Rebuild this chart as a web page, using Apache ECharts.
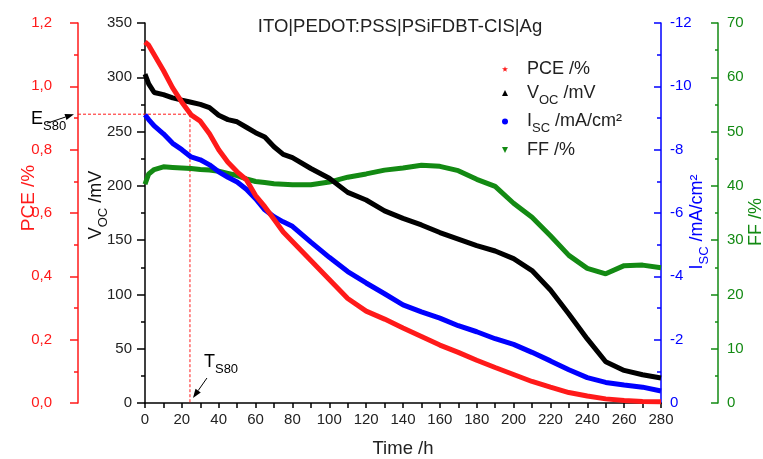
<!DOCTYPE html>
<html>
<head>
<meta charset="utf-8">
<script src="https://cdn.jsdelivr.net/npm/echarts@6/dist/echarts.min.js"></script>
<style>
html,body{margin:0;padding:0;background:#fff;}
#c{width:763px;height:459px;}
</style>
</head>
<body>
<div id="c"></div>
<script>
// ---- data ----
const times = [0, 2, 5, 10, 15, 20, 25, 30, 35, 40, 45, 50, 55, 60, 65, 70, 75, 80, 90, 100, 110, 120, 130, 140, 150, 160, 170, 180, 190, 200, 210, 220, 230, 240, 250, 260, 270, 280];
const pce = [1.14, 1.13, 1.10, 1.05, 0.995, 0.95, 0.91, 0.89, 0.85, 0.80, 0.76, 0.73, 0.705, 0.655, 0.62, 0.58, 0.54, 0.51, 0.45, 0.39, 0.33, 0.29, 0.265, 0.237, 0.21, 0.183, 0.16, 0.135, 0.112, 0.09, 0.068, 0.05, 0.033, 0.022, 0.013, 0.008, 0.005, 0.004];
const voc = [303, 294, 286, 284, 281, 279, 277, 275, 272, 265, 261, 259, 254, 249, 245, 236, 229, 226, 216, 207, 194, 187, 177, 170, 164, 157, 151, 145, 140, 133, 122, 104, 82, 59, 38, 30, 26, 23];
const isc = [-9.1, -8.95, -8.75, -8.5, -8.2, -8.0, -7.77, -7.68, -7.52, -7.3, -7.13, -6.98, -6.75, -6.45, -6.1, -5.88, -5.72, -5.58, -5.08, -4.6, -4.15, -3.79, -3.45, -3.1, -2.88, -2.68, -2.44, -2.25, -2.03, -1.85, -1.6, -1.33, -1.05, -0.8, -0.65, -0.57, -0.5, -0.38];
const ff = [40.3, 42.2, 43.0, 43.5, 43.4, 43.3, 43.2, 43.0, 42.9, 42.7, 42.3, 41.9, 41.3, 40.8, 40.6, 40.4, 40.3, 40.2, 40.2, 40.7, 41.6, 42.2, 42.9, 43.3, 43.8, 43.6, 42.8, 41.2, 39.9, 36.8, 34.2, 30.8, 27.2, 24.8, 23.8, 25.3, 25.4, 24.9];
const tS80 = 24.4;   // h
const eS80 = 0.912;  // %
const xTicks = {min: 0, max: 280, interval: 20};

// ---- layout / style ----
const RED = '#ff1a1a', BLUE = '#0000ff', GREEN = '#138a13', BLACK = '#000000';
const FONT = 'Liberation Sans, Arial, sans-serif';
const gridLeft = 145, gridRight = 102, gridTop = 23, gridBottom = 56;
const pceOffset = 67, ffOffset = 57;

function zip(a, b) { return a.map((t, i) => [t, b[i]]); }

function richSet(size, color) {
  return {
    m: {fontSize: size, color: color, fontFamily: FONT},
    s: {fontSize: Math.round(size * 0.72), color: color, fontFamily: FONT, padding: [Math.round(size * 0.8), 0, 0, 0]}
  };
}

const chart = echarts.init(document.getElementById('c'), null, {renderer: 'canvas'});

const legendLabels = {
  PCE: '{m|PCE /%}',
  Voc: '{m|V}{s|OC}{m| /mV}',
  Isc: '{m|I}{s|SC}{m| /mA/cm²}',
  FF: '{m|FF /%}'
};

function yAxisBase(color) {
  return {
    type: 'value',
    splitLine: {show: false},
    axisLine: {show: true, onZero: false, lineStyle: {color: color, width: 1.5}},
    axisTick: {show: true, length: 8, lineStyle: {color: color, width: 1.5}},
    minorTick: {show: true, splitNumber: 2, length: 4, lineStyle: {color: color, width: 1.5}},
    axisLabel: {fontSize: 15, fontFamily: FONT, color: color === BLACK ? '#222' : color},
    nameLocation: 'middle',
    nameRotate: 90,
    nameMoveOverlap: false
  };
}

const option = {
  animation: false,
  backgroundColor: '#fff',
  title: {
    text: 'ITO|PEDOT:PSS|PSiFDBT-CIS|Ag',
    left: 395, top: 12, textAlign: 'center',
    textStyle: {fontSize: 18.5, fontWeight: 'normal', color: '#222', fontFamily: FONT}
  },
  grid: {left: gridLeft, right: gridRight, top: gridTop, bottom: gridBottom, containLabel: false, outerBoundsMode: 'none'},
  legend: {
    orient: 'vertical', left: 497, top: 55,
    itemWidth: 6, itemHeight: 6, itemGap: 6,
    data: [
      {name: 'PCE', icon: 'path://M5,0L6.2,3.5L10,3.6L7,6L8,9.5L5,7.4L2,9.5L3,6L0,3.6L3.8,3.5Z'},
      {name: 'Voc', icon: 'triangle'},
      {name: 'Isc', icon: 'circle'},
      {name: 'FF', icon: 'path://M0,0L10,0L5,10Z'}
    ],
    formatter: n => legendLabels[n],
    textStyle: {color: '#222', fontSize: 18, fontFamily: FONT, padding: [0, 0, 0, 14], rich: richSet(18, '#222')},
    selectedMode: false
  },
  xAxis: {
    type: 'value', min: xTicks.min, max: xTicks.max, interval: xTicks.interval,
    splitLine: {show: false},
    axisLine: {show: true, onZero: false, lineStyle: {color: BLACK, width: 1.5}},
    axisTick: {show: true, length: 5, lineStyle: {color: BLACK, width: 1.5}},
    minorTick: {show: true, splitNumber: 2, length: 5, lineStyle: {color: BLACK, width: 1.5}},
    axisLabel: {fontSize: 15, fontFamily: FONT, color: '#222', margin: 9},
    name: 'Time /h', nameLocation: 'middle', nameGap: 36, nameMoveOverlap: false,
    nameTextStyle: {fontSize: 18.5, fontFamily: FONT, color: '#222'}
  },
  yAxis: [
    Object.assign(yAxisBase(BLACK), {
      position: 'left', offset: 0, min: 0, max: 350, interval: 50,
      name: '{m|V}{s|OC}{m| /mV}', nameGap: 35,
      nameTextStyle: {rich: richSet(18, '#111'), padding: [0, 0, 0, 16]}
    }),
    Object.assign(yAxisBase(RED), {
      position: 'left', offset: pceOffset, min: 0, max: 1.2, interval: 0.2,
      name: '{m|PCE /%}', nameGap: 40,
      nameTextStyle: {rich: richSet(19, RED), padding: [0, 0, 0, 30]}
    }),
    Object.assign(yAxisBase(BLUE), {
      position: 'right', offset: 0, min: -12, max: 0, interval: 2, inverse: true,
      name: '{m|I}{s|SC}{m| /mA/cm²}', nameGap: 23,
      nameTextStyle: {rich: richSet(18, BLUE), padding: [0, 18, 0, 0]}
    }),
    Object.assign(yAxisBase(GREEN), {
      position: 'right', offset: ffOffset, min: 0, max: 70, interval: 10,
      name: '{m|FF /%}', nameGap: 29,
      nameTextStyle: {rich: richSet(18, GREEN), padding: [0, 18, 0, 0]}
    })
  ],
  series: [
    {name: 'PCE', type: 'line', yAxisIndex: 1, data: zip(times, pce), showSymbol: false, symbol: 'none',
     lineStyle: {color: RED, width: 5}, itemStyle: {color: RED}, z: 5},
    {name: 'Voc', type: 'line', yAxisIndex: 0, data: zip(times, voc), showSymbol: false, symbol: 'none',
     lineStyle: {color: BLACK, width: 5}, itemStyle: {color: BLACK}, z: 4},
    {name: 'Isc', type: 'line', yAxisIndex: 2, data: zip(times, isc), showSymbol: false, symbol: 'none',
     lineStyle: {color: BLUE, width: 5}, itemStyle: {color: BLUE}, z: 3},
    {name: 'FF', type: 'line', yAxisIndex: 3, data: zip(times, ff), showSymbol: false, symbol: 'none',
     lineStyle: {color: GREEN, width: 5}, itemStyle: {color: GREEN}, z: 2}
  ]
};
// label formatters
option.yAxis[1].axisLabel.formatter = v => v.toFixed(1).replace('.', ',');
option.yAxis[1].axisLabel.margin = 26;
option.yAxis[0].axisLabel.margin = 13;
option.yAxis[2].axisLabel.margin = 9;
option.yAxis[3].axisLabel.margin = 9;
option.yAxis[2].axisTick.inside = true; option.yAxis[2].minorTick.inside = true;
option.yAxis[3].axisTick.inside = true; option.yAxis[3].minorTick.inside = true;
option.yAxis[2].axisTick.length = 7; option.yAxis[3].axisTick.length = 7;
option.yAxis[3].minorTick.length = 3;

chart.setOption(option);

// ---- annotations (positions derived from the axes) ----
const pt = chart.convertToPixel({xAxisIndex: 0, yAxisIndex: 1}, [tS80, eS80]);
const base = chart.convertToPixel({xAxisIndex: 0, yAxisIndex: 1}, [tS80, 0]);
const pceAxisX = gridLeft - pceOffset;

function arrow(x1, y1, x2, y2) {
  const ang = Math.atan2(y2 - y1, x2 - x1);
  const L = 9, W = 3.2;
  const bx = x2 - L * Math.cos(ang), by = y2 - L * Math.sin(ang);
  const nx = -Math.sin(ang) * W, ny = Math.cos(ang) * W;
  return [
    {type: 'line', silent: true, z: 20, shape: {x1: x1, y1: y1, x2: bx, y2: by}, style: {stroke: '#000', lineWidth: 1}},
    {type: 'polygon', silent: true, z: 20, shape: {points: [[x2, y2], [bx + nx, by + ny], [bx - nx, by - ny]]}, style: {fill: '#000'}}
  ];
}

function dash() { return {stroke: RED, lineWidth: 1, lineDash: [3, 2], fill: null}; }
const g = [
  {type: 'line', silent: true, z: 1, shape: {x1: pceAxisX, y1: pt[1], x2: pt[0], y2: pt[1]}, style: dash()},
  {type: 'line', silent: true, z: 1, shape: {x1: pt[0], y1: pt[1], x2: pt[0], y2: base[1]}, style: dash()},
  {type: 'text', silent: true, z: 20, left: 31, top: pt[1] - 4,
   style: {text: '{m|E}{s|S80}', rich: richSet(18, '#111'), fontFamily: FONT}},
  {type: 'text', silent: true, z: 20, left: pt[0] + 14, top: base[1] - 50,
   style: {text: '{m|T}{s|S80}', rich: richSet(18, '#111'), fontFamily: FONT}}
].concat(arrow(pceAxisX - 31, pt[1] + 9, pceAxisX - 4, pt[1]))
 .concat(arrow(pt[0] + 17, base[1] - 25, pt[0] + 3, base[1] - 5));

chart.setOption({graphic: g});
</script>
</body>
</html>
